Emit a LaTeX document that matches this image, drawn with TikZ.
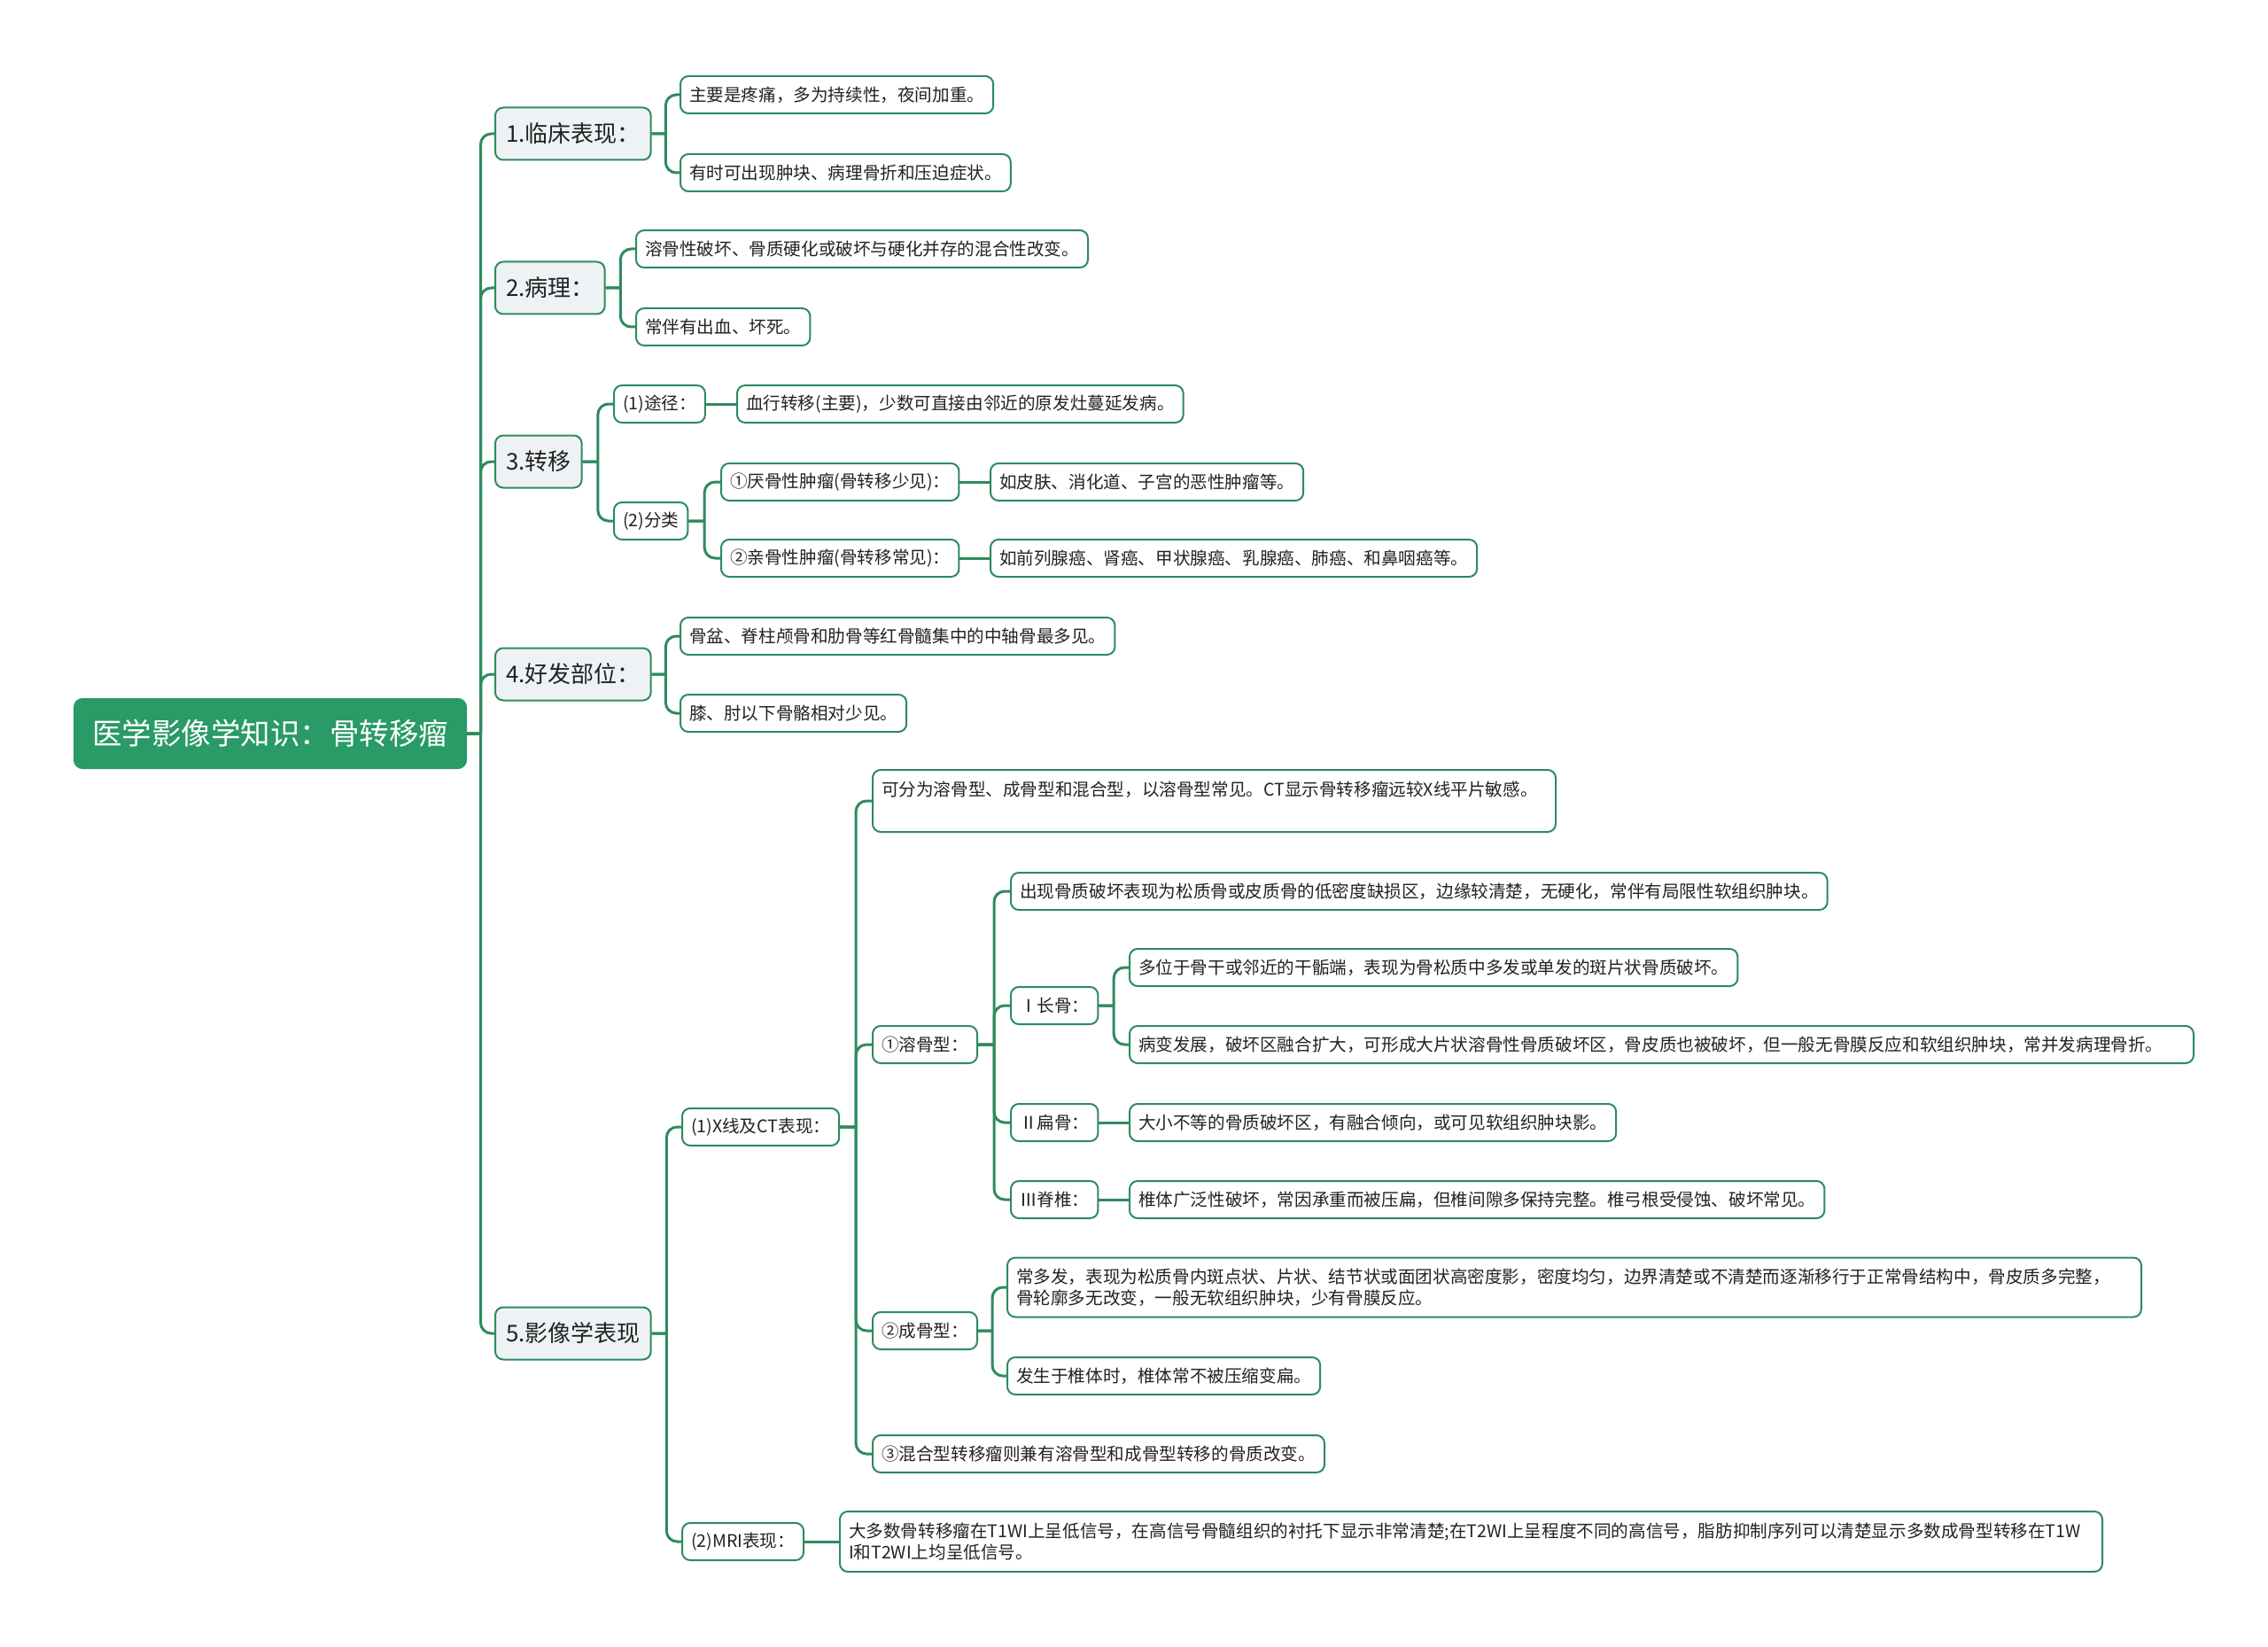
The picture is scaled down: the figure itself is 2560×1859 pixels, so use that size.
\documentclass[tikz,border=0pt]{standalone}
\usepackage{fontspec}
\setmainfont{Noto Sans CJK SC}
\usetikzlibrary{calc}
\definecolor{lineg}{HTML}{2E8B5E}
\definecolor{rootg}{HTML}{2A9A67}
\definecolor{lonefill}{HTML}{EEF2F4}
\definecolor{txt}{HTML}{222222}
\tikzset{
  box/.style={draw=lineg, line width=2pt, rounded corners=9pt, anchor=west, text=txt, inner xsep=10pt, inner ysep=4pt},
  leaf/.style={box, fill=white, minimum height=42pt, font=\fontsize{19.6}{24.5}\selectfont},
  lone/.style={box, fill=lonefill, minimum height=59pt, inner xsep=12pt, font=\fontsize{26}{30}\selectfont},
  rootbox/.style={box, draw=rootg, fill=rootg, text=white, minimum height=78pt, inner xsep=20pt, font=\fontsize{33.5}{38}\selectfont},
  conn/.style={draw=lineg, line width=3pt, rounded corners=12pt},
}
\newcommand\lnk[2]{\draw[conn] (#1.east) -- ($(#1.east)!0.5!(#1.east -| #2.west)$) ($(#1.east)!0.5!(#1.east -| #2.west)$) |- (#2.west);}
\newcommand\lnks[2]{\draw[conn] (#1.east) -- (#1.east -| #2.west);}
\begin{document}
\begin{tikzpicture}[x=1pt,y=-1pt]
\fill[white] (0,0) rectangle (2560,1859);
\useasboundingbox (0,0) rectangle (2560,1859);

\node[rootbox] (root) at (83,828) {医学影像学知识：骨转移瘤};

\node[lone] (n1) at (558,151) {1.临床表现：};
\node[lone] (n2) at (558,325) {2.病理：};
\node[lone] (n3) at (558,521) {3.转移};
\node[lone] (n4) at (558,761) {4.好发部位：};
\node[lone] (n5) at (558,1505) {5.影像学表现};

\node[leaf] (a1) at (767,107) {主要是疼痛，多为持续性，夜间加重。};
\node[leaf] (a2) at (767,195) {有时可出现肿块、病理骨折和压迫症状。};
\node[leaf] (b1) at (717,281) {溶骨性破坏、骨质硬化或破坏与硬化并存的混合性改变。};
\node[leaf] (b2) at (717,369) {常伴有出血、坏死。};
\node[leaf] (c1) at (692,456) {(1)途径：};
\node[leaf] (c1a) at (831,456) {血行转移(主要)，少数可直接由邻近的原发灶蔓延发病。};
\node[leaf] (c2) at (692,588) {(2)分类};
\node[leaf] (c2a) at (813,544) {①厌骨性肿瘤(骨转移少见)：};
\node[leaf] (c2a1) at (1117,544) {如皮肤、消化道、子宫的恶性肿瘤等。};
\node[leaf] (c2b) at (813,630) {②亲骨性肿瘤(骨转移常见)：};
\node[leaf] (c2b1) at (1117,630) {如前列腺癌、肾癌、甲状腺癌、乳腺癌、肺癌、和鼻咽癌等。};
\node[leaf] (d1) at (767,718) {骨盆、脊柱颅骨和肋骨等红骨髓集中的中轴骨最多见。};
\node[leaf] (d2) at (767,805) {膝、肘以下骨骼相对少见。};

\node[leaf] (e1) at (769,1272) {(1)X线及CT表现：};
\node[leaf] (e2) at (769,1740) {(2)MRI表现：};
\node[leaf, text width=751pt, align=left, minimum height=70pt, text depth=28pt] (e1a) at (984,904) {可分为溶骨型、成骨型和混合型，以溶骨型常见。CT显示骨转移瘤远较X线平片敏感。};
\node[leaf] (e1b) at (984,1179) {①溶骨型：};
\node[leaf] (e1c) at (984,1502) {②成骨型：};
\node[leaf] (e1d) at (984,1641) {③混合型转移瘤则兼有溶骨型和成骨型转移的骨质改变。};
\node[leaf] (f1) at (1140,1006) {出现骨质破坏表现为松质骨或皮质骨的低密度缺损区，边缘较清楚，无硬化，常伴有局限性软组织肿块。};
\node[leaf] (f2) at (1140,1135) {Ⅰ长骨：};
\node[leaf] (f3) at (1140,1267) {Ⅱ扁骨：};
\node[leaf] (f4) at (1140,1354) {Ⅲ脊椎：};
\node[leaf] (f2a) at (1274,1092) {多位于骨干或邻近的干骺端，表现为骨松质中多发或单发的斑片状骨质破坏。};
\node[leaf, text width=1181pt, align=left] (f2b) at (1274,1179) {病变发展，破坏区融合扩大，可形成大片状溶骨性骨质破坏区，骨皮质也被破坏，但一般无骨膜反应和软组织肿块，常并发病理骨折。};
\node[leaf] (f3a) at (1274,1267) {大小不等的骨质破坏区，有融合倾向，或可见软组织肿块影。};
\node[leaf] (f4a) at (1274,1354) {椎体广泛性破坏，常因承重而被压扁，但椎间隙多保持完整。椎弓根受侵蚀、破坏常见。};
\node[leaf, text width=1260pt, align=left, minimum height=67pt] (g1) at (1136,1453) {常多发，表现为松质骨内斑点状、片状、结节状或面团状高密度影，密度均匀，边界清楚或不清楚而逐渐移行于正常骨结构中，骨皮质多完整，\\骨轮廓多无改变，一般无软组织肿块，少有骨膜反应。};
\node[leaf] (g2) at (1136,1553) {发生于椎体时，椎体常不被压缩变扁。};
\node[leaf, text width=1405pt, align=left, minimum height=68pt] (h1) at (947,1740) {大多数骨转移瘤在T1WI上呈低信号，在高信号骨髓组织的衬托下显示非常清楚;在T2WI上呈程度不同的高信号，脂肪抑制序列可以清楚显示多数成骨型转移在T1W\\I和T2WI上均呈低信号。};

\lnk{root}{n1}\lnk{root}{n2}\lnk{root}{n3}\lnk{root}{n4}\lnk{root}{n5}
\lnk{n1}{a1}\lnk{n1}{a2}
\lnk{n2}{b1}\lnk{n2}{b2}
\lnk{n3}{c1}\lnk{n3}{c2}
\lnks{c1}{c1a}
\lnk{c2}{c2a}\lnk{c2}{c2b}
\lnks{c2a}{c2a1}\lnks{c2b}{c2b1}
\lnk{n4}{d1}\lnk{n4}{d2}
\lnk{n5}{e1}\lnk{n5}{e2}
\lnk{e1}{e1a}\lnk{e1}{e1b}\lnk{e1}{e1c}\lnk{e1}{e1d}
\lnk{e1b}{f1}\lnk{e1b}{f2}\lnk{e1b}{f3}\lnk{e1b}{f4}
\lnk{f2}{f2a}\lnk{f2}{f2b}
\lnks{f3}{f3a}\lnks{f4}{f4a}
\lnk{e1c}{g1}\lnk{e1c}{g2}
\lnks{e2}{h1}
\end{tikzpicture}
\end{document}
